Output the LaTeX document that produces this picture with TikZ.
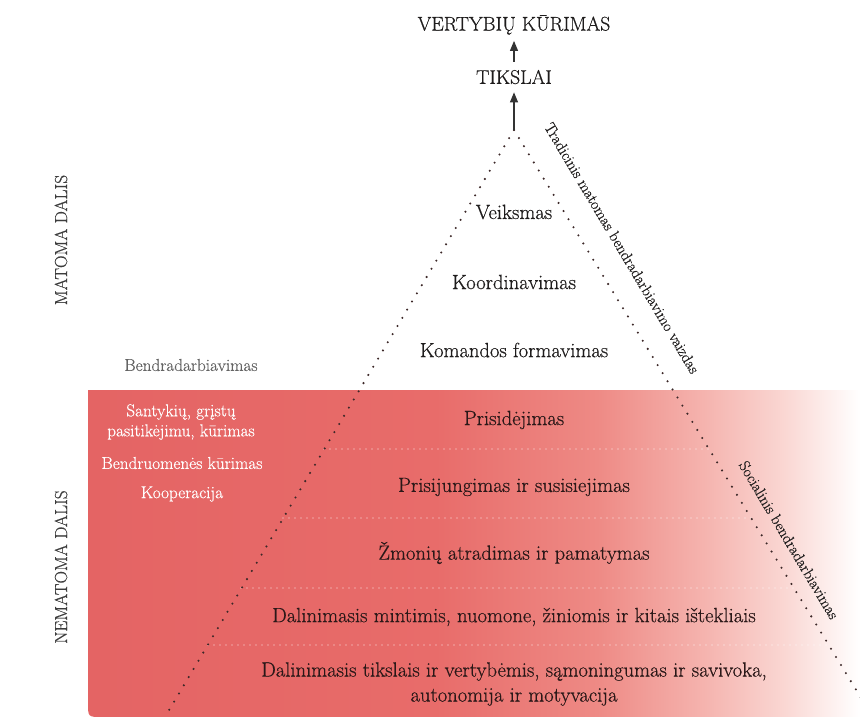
\documentclass[tikz,border=0pt]{standalone}
\usepackage{fontspec}
\setmainfont{Latin Modern Roman}[FakeBold=0.5]
\usetikzlibrary{arrows.meta,calc}

\definecolor{txtdark}{RGB}{30,28,28}
\definecolor{txtred}{RGB}{42,24,24}
\definecolor{txtgray}{RGB}{100,100,100}
\definecolor{sidegray}{RGB}{60,60,60}
\definecolor{basered}{RGB}{228,100,100}
\definecolor{midred}{RGB}{232,108,106}
\definecolor{warmred}{RGB}{238,138,133}
\definecolor{pinkred}{RGB}{245,180,175}
\definecolor{lightpink}{RGB}{250,214,210}

% horizontal fade; the 25bp--75bp part spans the filled path
\pgfdeclarehorizontalshading{redfade}{100bp}{%
  color(0bp)=(basered); color(25bp)=(basered); color(47.5bp)=(midred);
  color(58bp)=(warmred); color(65bp)=(pinkred); color(70bp)=(lightpink);
  color(75bp)=(white); color(100bp)=(white)}

\tikzset{
  toplabel/.style={font=\fontsize{19.8}{23}\selectfont, text=txtdark, inner sep=0pt},
  level/.style={font=\fontsize{20.6}{25}\selectfont, text=txtred, align=center, inner sep=0pt},
  toplevel/.style={font=\fontsize{20.6}{25}\selectfont, text=txtdark, inner sep=0pt},
  sidenote/.style={font=\fontsize{17.2}{21}\selectfont, text=white, align=center, inner sep=0pt},
  partlabel/.style={font=\fontsize{17.4}{21}\selectfont, text=sidegray, rotate=90, inner sep=0pt},
  edgelabel/.style={font=\fontsize{15.5}{19}\selectfont, text=txtdark, inner sep=0pt},
  edgedots/.style={draw={rgb,255:red,60;green,40;blue,40}, line width=2.3pt, line cap=round, dash pattern=on 0pt off 9.5pt},
  layerdots/.style={draw=white, opacity=0.85, line width=1.4pt, line cap=round, dash pattern=on 0pt off 6pt},
  uparrow/.style={draw=black!80, line width=1.1pt, -{Triangle[width=8pt,length=10pt]}}
}

\begin{document}
\begin{tikzpicture}[x=1pt,y=-1pt]
\useasboundingbox (0,0) rectangle (860,717);

% hidden part: red band fading to white on the right
\shade[shading=redfade]
  (88,390) -- (860,390) -- (860,717) -- (102,717)
  .. controls (88,717) .. (88,703) -- cycle;

% pyramid corners
\coordinate (apex) at (514,130);
\coordinate (bl) at (165,717);
\coordinate (br) at (866,706);

% layer separators inside the pyramid
\draw[layerdots] (324,449) -- (709,449);
\draw[layerdots] (283,518) -- (751,518);
\draw[layerdots] (241,588) -- (794,588);
\draw[layerdots] (208,645) -- (829,645);

% pyramid sides
\draw[edgedots] (apex) -- (bl);
\draw[edgedots] (apex) -- (br);

% goals above the pyramid
\node[toplabel] (vert) at (514,25) {VERTYBIŲ KŪRIMAS};
\node[toplabel] (tiks) at (514,77) {TIKSLAI};
\draw[uparrow, shorten >=8pt] (apex) -- (tiks.south);
\draw[uparrow, shorten <=8pt, shorten >=6pt] (tiks.north) -- (vert.south);

% visible levels
\node[toplevel] (l1) at (514,212) {Veiksmas};
\node[toplevel] (l2) at (514,282) {Koordinavimas};
\node[toplevel] (l3) at (514,350) {Komandos formavimas};

% hidden levels
\node[level] (l4) at (514,420) {Prisidėjimas};
\node[level] (l5) at (514,487) {Prisijungimas ir susisiejimas};
\node[level] (l6) at (514,553) {Žmonių atradimas ir pamatymas};
\node[level] (l7) at (514,617) {Dalinimasis mintimis, nuomone, žiniomis ir kitais ištekliais};
\node[level, font=\fontsize{20.6}{25}\selectfont] (l8) at (514,684)
  {Dalinimasis tikslais ir vertybėmis, sąmoningumas ir savivoka,\\autonomija ir motyvacija};

% left column
\node[sidenote, text=txtgray] (bend) at (191,365) {Bendradarbiavimas};
\node[sidenote, font=\fontsize{17.2}{20}\selectfont] (sant) at (181,422) {Santykių, grįstų\\pasitikėjimu, kūrimas};
\node[sidenote] (bkur) at (182,463) {Bendruomenės kūrimas};
\node[sidenote] (koop) at (182,494) {Kooperacija};

% part labels
\node[partlabel] (mat) at (61,240) {MATOMA DALIS};
\node[partlabel] (nemat) at (61,567) {NEMATOMA DALIS};

% labels along the right side
\node[edgelabel, rotate=-59.3] (trad) at (622,248) {Tradicinis matomas bendradarbiavimo vaizdas};
\node[edgelabel, rotate=-59.3] (soc) at (789,540) {Socialinis bendradarbiavimas};
\end{tikzpicture}
\end{document}
